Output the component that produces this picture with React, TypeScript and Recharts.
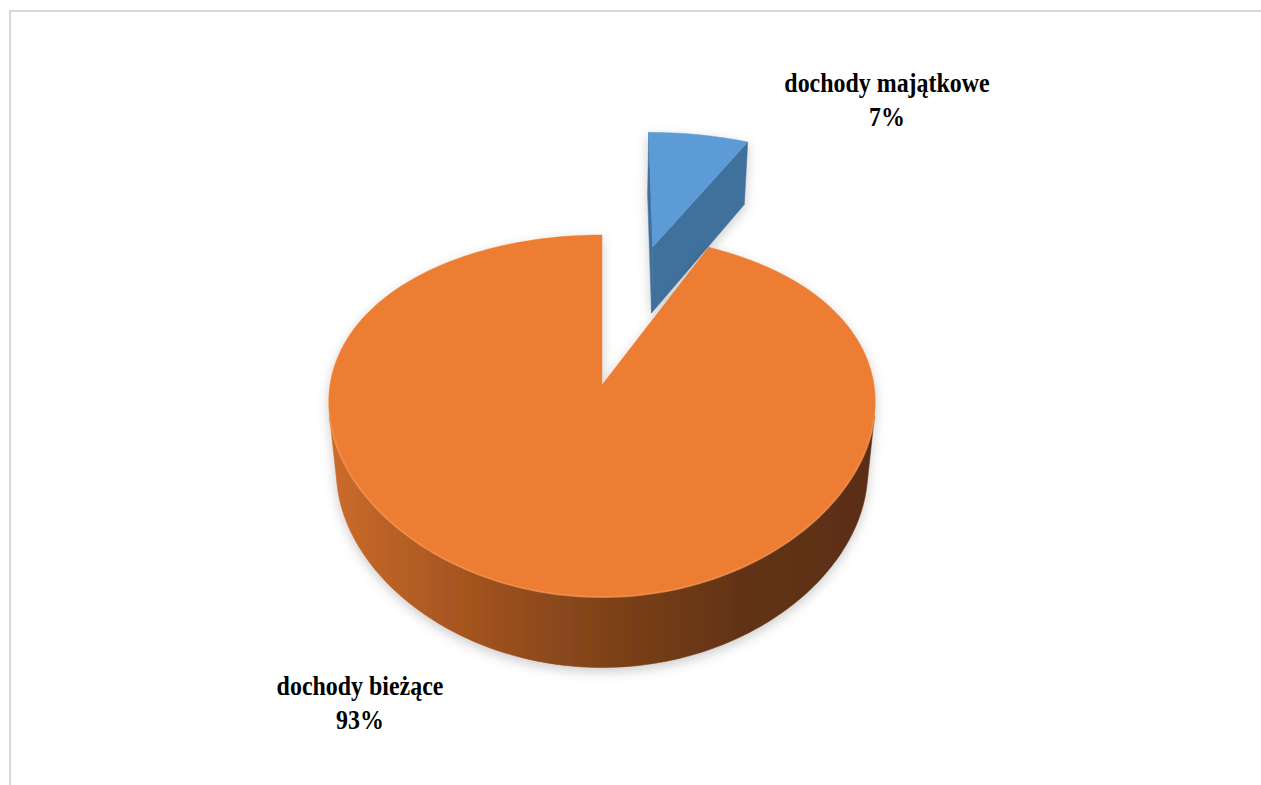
import React from "react"
import { Pie, PieChart } from "recharts"

// data
const categories = ["dochody majątkowe", "dochody bieżące"]
const shares = [7, 93]

const data = categories.map((name, i) => ({ name, value: shares[i] }))

// fake 3D projection (Excel-like tilted pie with perspective)
const PAGE_W = 1261
const PAGE_H = 785
const CX = 602
const CY = 385
const RADIUS = 272
const DIST = 4.46 // perspective for vertical direction
const DIST_X = 8 // weaker perspective horizontally
const SIN_T = 0.646
const COS_T = 0.764
const DEPTH = 0.35
const EXPLODE = [0.93, 0]

const TOP_COLORS = ["#5B9BD5", "#ED7D31"]
const CUT_COLORS = ["#41719C", "#AE5A21"]
const WALL_STOPS = [
  ["#4F86B8", "#41719C", "#2F5577"],
  ["#CB6B2B", "#A4541F", "#7F4219", "#633315", "#5A2E12"],
]
const RIM_COLORS = ["#7FB2E0", "#F59A5A"]
const LABEL_AT = [
  [887, 92],
  [360, 695],
]

const rad = Math.PI / 180

const area = (pts: number[][]) => {
  let s = 0
  for (let i = 0; i < pts.length; i++) {
    const a = pts[i]
    const b = pts[(i + 1) % pts.length]
    s += a[0] * b[1] - b[0] * a[1]
  }
  return s
}

const toPath = (pts: number[][]) =>
  pts.map((p, i) => `${i ? "L" : "M"}${p[0].toFixed(2)},${p[1].toFixed(2)}`).join(" ") + " Z"

const Slice3D = (props: any) => {
  const { cx, cy, outerRadius, startAngle, endAngle, index } = props
  const Fy = outerRadius * DIST
  const Fx = outerRadius * DIST_X
  const mid = (startAngle + endAngle) / 2
  const e = EXPLODE[index] || 0
  const ox = e * Math.cos(mid * rad)
  const oz = e * Math.sin(mid * rad)

  const proj = (x: number, z: number, h: number) => {
    const u = z * SIN_T + h * COS_T
    const dz = z * COS_T - h * SIN_T
    return [cx + (Fx * x) / (DIST_X + dz), cy - (Fy * u) / (DIST + dz)]
  }
  const rim = (a: number, h: number) => proj(ox + Math.cos(a * rad), oz + Math.sin(a * rad), h)
  const center = (h: number) => proj(ox, oz, h)

  const lo = Math.min(startAngle, endAngle)
  const hi = Math.max(startAngle, endAngle)
  const steps = Math.max(2, Math.ceil((hi - lo) / 1.5))
  const angles: number[] = []
  for (let i = 0; i <= steps; i++) angles.push(lo + ((hi - lo) * i) / steps)

  // outer wall, only the parts facing the viewer
  const runs: number[][] = []
  let cur: number[] | null = null
  for (let i = 0; i < steps; i++) {
    const q = [rim(angles[i], 0), rim(angles[i + 1], 0), rim(angles[i + 1], -DEPTH), rim(angles[i], -DEPTH)]
    if (area(q) > 0) {
      if (!cur) {
        cur = [i, i + 1]
        runs.push(cur)
      } else cur[1] = i + 1
    } else cur = null
  }
  const wallPaths = runs.map(([a, b]) => {
    const top = angles.slice(a, b + 1).map((t) => rim(t, 0))
    const bottom = angles.slice(a, b + 1).reverse().map((t) => rim(t, -DEPTH))
    return { pts: [...top, ...bottom], top }
  })

  // cut faces
  const cTop = center(0)
  const cBot = center(-DEPTH)
  const loFace = [cTop, rim(lo, 0), rim(lo, -DEPTH), cBot]
  const hiFace = [cTop, cBot, rim(hi, -DEPTH), rim(hi, 0)]
  const faces = [loFace, hiFace].filter((f) => area(f) > 0)

  const topFace = [cTop, ...angles.map((t) => rim(t, 0))]

  const gradId = `wall-grad-${index}`
  const shadowId = `slice-shadow-${index}`
  const stops = WALL_STOPS[index % WALL_STOPS.length]

  return (
    <g>
      <defs>
        <linearGradient id={gradId} gradientUnits="userSpaceOnUse" x1={cx - outerRadius} y1={0} x2={cx + outerRadius} y2={0}>
          {stops.map((c, i) => (
            <stop key={i} offset={i / (stops.length - 1)} stopColor={c} />
          ))}
        </linearGradient>
        <filter id={shadowId} x="-20%" y="-20%" width="140%" height="140%">
          <feDropShadow dx={0} dy={4} stdDeviation={6} floodColor="#000" floodOpacity={0.2} />
        </filter>
      </defs>
      <g filter={`url(#${shadowId})`}>
        {wallPaths.map((w, i) => (
          <path key={`w${i}`} d={toPath(w.pts)} fill={`url(#${gradId})`} stroke={`url(#${gradId})`} strokeWidth={0.6} />
        ))}
        {faces.map((f, i) => (
          <path key={`f${i}`} d={toPath(f)} fill={CUT_COLORS[index]} stroke={CUT_COLORS[index]} strokeWidth={0.5} />
        ))}
        <path d={toPath(topFace)} fill={TOP_COLORS[index]} stroke={TOP_COLORS[index]} strokeWidth={0.5} />
      </g>
      {wallPaths.map((w, i) => (
        <polyline
          key={`r${i}`}
          points={w.top.map((p) => `${p[0].toFixed(2)},${p[1].toFixed(2)}`).join(" ")}
          fill="none"
          stroke={RIM_COLORS[index]}
          strokeWidth={2}
          strokeOpacity={0.6}
        />
      ))}
    </g>
  )
}

const renderLabel = (props: any) => {
  const { index, name, percent } = props
  const [x, y] = LABEL_AT[index]
  const font = {
    fontFamily: "'Liberation Serif', 'Times New Roman', serif",
    fontWeight: "bold" as const,
    fontSize: 28,
    fill: "#000",
  }
  return (
    <g transform={`translate(${x},${y}) scale(0.855,1)`}>
      <text x={0} y={0} textAnchor="middle" {...font}>
        {name}
      </text>
      <text x={0} y={34} textAnchor="middle" {...font}>
        {`${Math.round(percent * 100)}%`}
      </text>
    </g>
  )
}

export default function App() {
  return (
    <div style={{ position: "fixed", left: 0, top: 0, width: PAGE_W, height: PAGE_H, overflow: "hidden", background: "#fff" }}>
      <div
        style={{
          position: "absolute",
          left: 9,
          top: 10,
          width: PAGE_W,
          height: PAGE_H,
          borderTop: "2px solid #d9d9d9",
          borderLeft: "2px solid #d9d9d9",
        }}
      />
      <div style={{ position: "absolute", left: 0, top: 0 }}>
        <PieChart width={PAGE_W} height={PAGE_H} margin={{ top: 0, right: 0, bottom: 0, left: 0 }}>
          <Pie
            data={data}
            dataKey="value"
            nameKey="name"
            cx={CX}
            cy={CY}
            outerRadius={RADIUS}
            startAngle={90}
            endAngle={-270}
            stroke="none"
            shape={Slice3D}
            label={renderLabel}
            labelLine={false}
            isAnimationActive={false}
          />
        </PieChart>
      </div>
    </div>
  )
}
